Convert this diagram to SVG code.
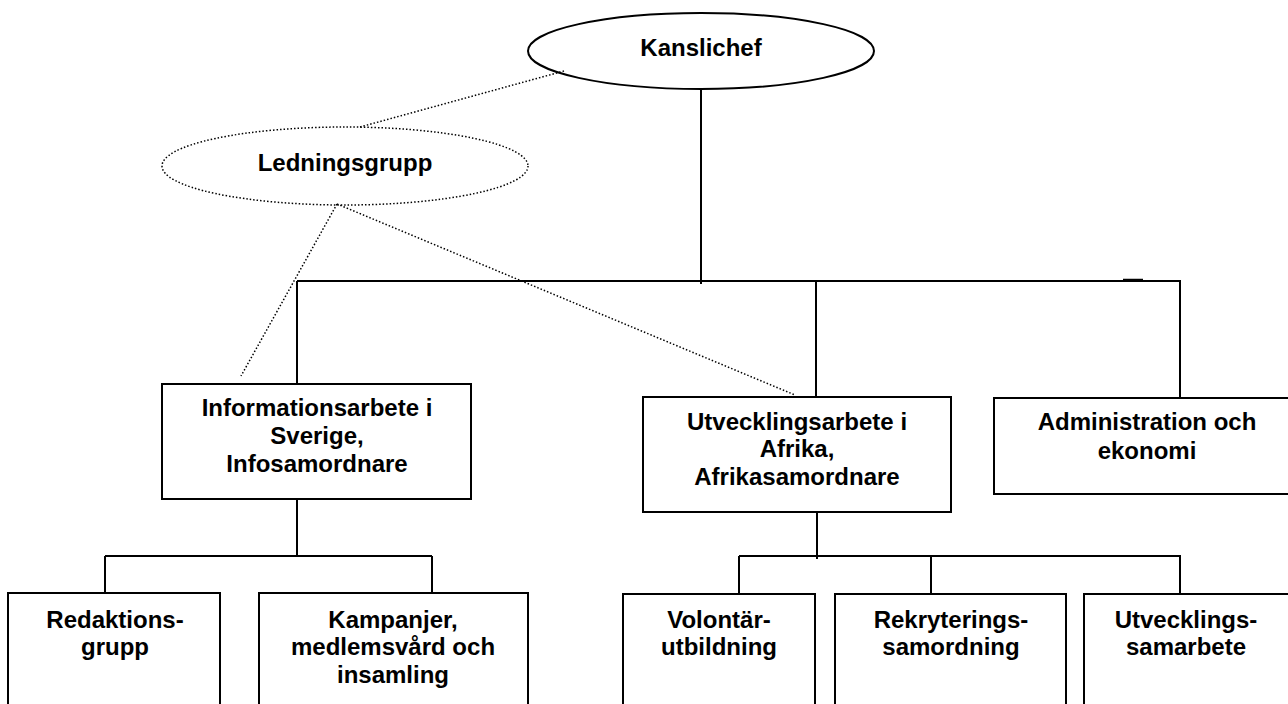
<svg xmlns="http://www.w3.org/2000/svg" width="1288" height="704" viewBox="0 0 1288 704">
<style>
.box{fill:#fff;stroke:#000;stroke-width:2}
.ell{fill:#fff;stroke:#000;stroke-width:2}
.dotell{fill:#fff;stroke:#000;stroke-width:1.5;stroke-dasharray:1.5 2}
.ln{stroke:#000;stroke-width:2;fill:none}
.dot{stroke:#000;stroke-width:1.5;stroke-dasharray:1.5 2;fill:none}
text{font-family:"Liberation Sans",Arial,sans-serif;font-weight:bold;font-size:24px;text-anchor:middle;fill:#000}
</style>
<rect width="1288" height="704" fill="#fff"/>
<g id="connectors">
<line class="ln" x1="701" y1="89" x2="701" y2="284"/>
<line class="ln" x1="297" y1="281" x2="1181" y2="281"/>
<line class="ln" x1="1123" y1="280" x2="1143" y2="280" style="stroke-width:2.5"/>
<line class="ln" x1="297" y1="281" x2="297" y2="384"/>
<line class="ln" x1="816" y1="281" x2="816" y2="397"/>
<line class="ln" x1="1180" y1="281" x2="1180" y2="398"/>
<line class="ln" x1="297" y1="499" x2="297" y2="556"/>
<line class="ln" x1="105" y1="556" x2="432" y2="556"/>
<line class="ln" x1="105" y1="556" x2="105" y2="593"/>
<line class="ln" x1="432" y1="556" x2="432" y2="593"/>
<line class="ln" x1="817" y1="512" x2="817" y2="559"/>
<line class="ln" x1="739" y1="556" x2="1181" y2="556"/>
<line class="ln" x1="739" y1="556" x2="739" y2="594"/>
<line class="ln" x1="931" y1="556" x2="931" y2="594"/>
<line class="ln" x1="1180" y1="556" x2="1180" y2="594"/>
</g>
<g id="kanslichef">
<ellipse class="ell" cx="701" cy="51" rx="173" ry="38"/>
<text x="701" y="56">Kanslichef</text>
</g>
<g id="ledningsgrupp">
<ellipse class="dotell" cx="345" cy="166" rx="183" ry="39"/>
<text x="345" y="171">Ledningsgrupp</text>
</g>
<g id="dotted-connectors">
<line class="dot" x1="564" y1="71" x2="360" y2="127"/>
<line class="dot" x1="337" y1="204" x2="241" y2="376"/>
<line class="dot" x1="337" y1="204" x2="795" y2="395"/>
</g>
<g id="info">
<rect class="box" x="162" y="384" width="309" height="115"/>
<text x="317" y="416">Informationsarbete i</text>
<text x="317" y="444">Sverige,</text>
<text x="317" y="472">Infosamordnare</text>
</g>
<g id="utveckling">
<rect class="box" x="643" y="397" width="308" height="115"/>
<text x="797" y="430">Utvecklingsarbete i</text>
<text x="797" y="457">Afrika,</text>
<text x="797" y="485">Afrikasamordnare</text>
</g>
<g id="admin">
<rect class="box" x="994" y="398" width="300" height="96"/>
<text x="1147" y="430">Administration och</text>
<text x="1147" y="459">ekonomi</text>
</g>
<g id="redaktion">
<rect class="box" x="8" y="593" width="212" height="120"/>
<text x="115" y="628">Redaktions-</text>
<text x="115" y="655">grupp</text>
</g>
<g id="kampanjer">
<rect class="box" x="259" y="593" width="269" height="120"/>
<text x="393" y="628">Kampanjer,</text>
<text x="393" y="655">medlemsvård och</text>
<text x="393" y="683">insamling</text>
</g>
<g id="volontar">
<rect class="box" x="623" y="594" width="192" height="120"/>
<text x="719" y="628">Volontär-</text>
<text x="719" y="655">utbildning</text>
</g>
<g id="rekrytering">
<rect class="box" x="835" y="594" width="231" height="120"/>
<text x="951" y="628">Rekryterings-</text>
<text x="951" y="655">samordning</text>
</g>
<g id="utvecklingssamarbete">
<rect class="box" x="1084" y="594" width="210" height="120"/>
<text x="1186" y="628">Utvecklings-</text>
<text x="1186" y="655">samarbete</text>
</g>
</svg>
